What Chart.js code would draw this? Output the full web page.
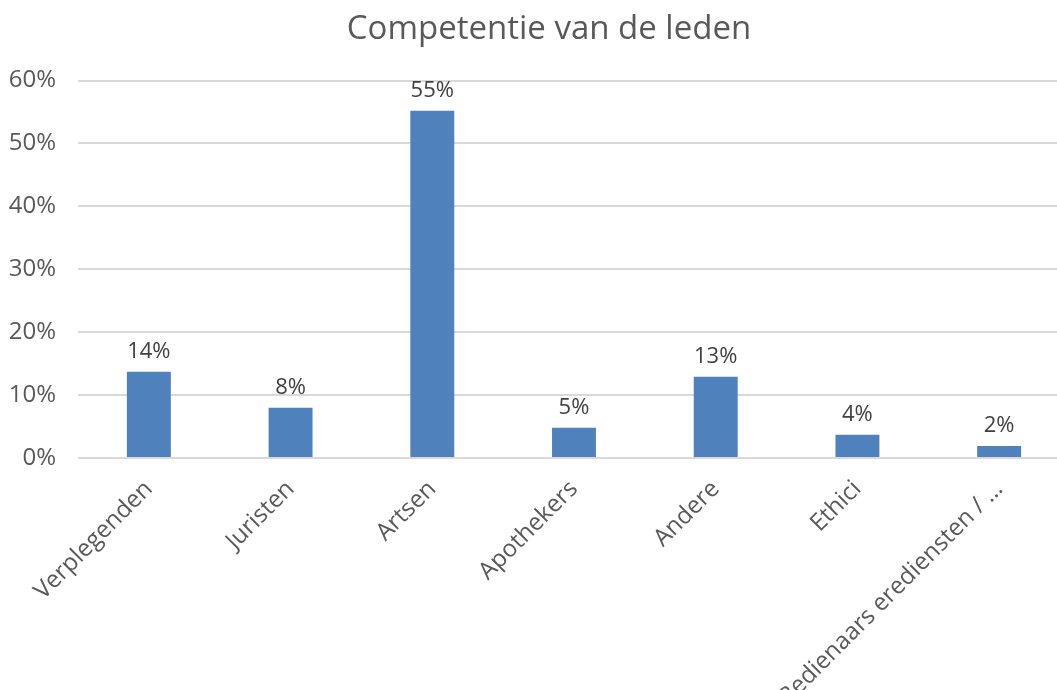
<!DOCTYPE html>
<html>
<head>
<meta charset="utf-8">
<script src="https://cdn.jsdelivr.net/npm/chart.js@4/dist/chart.umd.min.js"></script>
<style>
  html, body { margin: 0; padding: 0; background: #fff; overflow: hidden; }
  #wrap { position: relative; width: 1098px; height: 690px; }
</style>
</head>
<body>
<div id="wrap"><canvas id="competentieChart"></canvas></div>
<script>
// Categories and shares (in %)
const categories = ['Verplegenden', 'Juristen', 'Artsen', 'Apothekers', 'Andere', 'Ethici', 'Bedienaars erediensten / …'];
const shares = [13.7, 8.0, 55.2, 4.8, 12.9, 3.7, 1.9];
const yTicks = [0, 10, 20, 30, 40, 50, 60];

const FONT = "'Open Sans', 'DejaVu Sans', sans-serif";
const TEXT = '#595959';

// value labels above each bar
const barLabels = {
    id: 'barLabels',
    afterDatasetsDraw(chart) {
        const ctx = chart.ctx;
        const meta = chart.getDatasetMeta(0);
        ctx.save();
        ctx.font = '22px ' + FONT;
        ctx.fillStyle = '#404040';
        ctx.textAlign = 'center';
        ctx.textBaseline = 'bottom';
        meta.data.forEach((bar, i) => {
            ctx.fillText(Math.round(shares[i]) + '%', bar.x, bar.y - 9);
        });
        ctx.restore();
    }
};

// center the title over the whole frame, not only the part left of the padding
const titleShift = {
    id: 'titleShift',
    afterLayout(chart) {
        if (chart.titleBlock) chart.titleBlock.left = 28;
    }
};

const ctx = document.getElementById('competentieChart').getContext('2d');
const competentieChart = new Chart(ctx, {
    type: 'bar',
    data: {
        labels: categories,
        datasets: [{
            data: shares,
            backgroundColor: '#4F81BD',
            categoryPercentage: 1,
            barPercentage: 0.31
        }]
    },
    options: {
        responsive: true,
        maintainAspectRatio: false,
        animation: false,
        layout: { padding: { top: 10, right: 28, left: 0, bottom: 0 } },
        plugins: {
            legend: { display: false },
            tooltip: { enabled: false },
            title: {
                display: true,
                text: 'Competentie van de leden',
                color: TEXT,
                font: { family: FONT, size: 33, weight: 'normal' },
                padding: { top: 0, bottom: 31 }
            }
        },
        scales: {
            x: {
                grid: { display: false },
                border: { display: false },
                ticks: {
                    color: TEXT,
                    font: { family: FONT, size: 24 },
                    minRotation: 45,
                    maxRotation: 45,
                    padding: 9,
                    autoSkip: false
                },
                afterFit(scale) { scale.height = 232; }
            },
            y: {
                min: 0,
                max: 60,
                afterBuildTicks(scale) { scale.ticks = yTicks.map(v => ({ value: v })); },
                grid: { color: '#D9D9D9', lineWidth: 2, drawTicks: false },
                border: { display: false },
                ticks: {
                    color: TEXT,
                    font: { family: FONT, size: 24 },
                    padding: 22,
                    callback: v => v + '%'
                },
                afterFit(scale) { scale.width = 78; }
            }
        }
    },
    plugins: [barLabels, titleShift]
});
</script>
</body>
</html>
